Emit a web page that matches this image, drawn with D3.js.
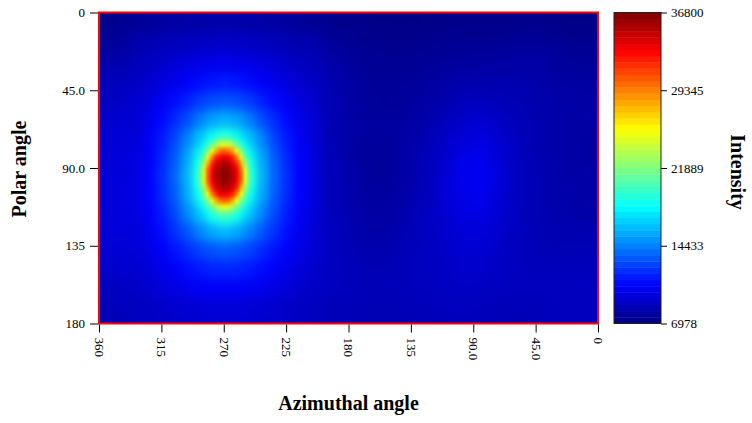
<!DOCTYPE html>
<html>
<head>
<meta charset="utf-8">
<script src="https://cdn.jsdelivr.net/npm/d3@7"></script>
<style>
  html, body { margin: 0; padding: 0; background: #ffffff; }
  svg { display: block; font-family: "Liberation Serif", "Times New Roman", serif; }
</style>
</head>
<body>
<svg id="chart" width="752" height="423"></svg>
<script>
// ---------------------------------------------------------------
// Scattered intensity over (azimuthal, polar) angles.
// Map values are stored in hundreds of counts, one string per row
// (polar angle increasing downwards, azimuth decreasing rightwards).
// ---------------------------------------------------------------

// Wide field: 15° x 15° bins
const wideAz = [352.5, 337.5, 322.5, 307.5, 292.5, 277.5, 262.5, 247.5, 232.5, 217.5, 202.5, 187.5,
                172.5, 157.5, 142.5, 127.5, 112.5, 97.5, 82.5, 67.5, 52.5, 37.5, 22.5, 7.5];
const widePolar = [7.5, 22.5, 37.5, 52.5, 67.5, 82.5, 97.5, 112.5, 127.5, 142.5, 157.5, 172.5];
const wideBin = [15, 15];
const wideRows = [
  "74 76 78 80 81 82 82 81 80 78 76 74 73 72 72 72 73 73 73 73 74 73 72 72",
  "79 81 84 87 89 90 90 89 87 85 83 79 76 75 74 75 76 77 77 78 80 79 77 76",
  "87 88 90 93 96 98 98 96 93 90 88 83 78 77 77 78 80 82 83 83 83 81 79 79",
  "90 92 94 97 101 104 104 101 97 92 88 84 79 77 78 80 83 88 89 86 85 83 82 81",
  "94 95 97 100 107 113 113 107 100 94 89 84 80 79 80 83 88 95 96 90 86 83 81 80",
  "95 97 99 103 112 125 125 112 103 95 90 85 79 77 80 85 91 100 103 93 87 83 81 79",
  "96 98 100 104 115 130 130 115 104 96 91 86 80 77 80 85 93 103 105 94 87 84 82 81",
  "96 98 100 103 112 123 123 112 103 96 91 86 81 79 82 87 93 100 101 92 87 84 82 81",
  "95 97 98 101 107 112 112 107 101 95 91 88 83 81 84 88 91 96 97 91 87 85 84 84",
  "93 95 97 99 103 106 106 103 99 95 91 88 85 84 86 88 90 93 93 89 87 86 86 86",
  "89 91 93 95 97 99 99 97 95 92 90 88 87 86 87 88 89 91 90 88 88 88 88 88",
  "86 88 90 92 93 94 94 93 92 90 88 86 86 85 86 86 87 88 87 86 86 87 88 88"
];

// Halo around the hot spot: 9° x 10.8° bins
const haloAz = [332.5, 323.5, 314.5, 305.5, 296.5, 287.5, 278.5, 269.5, 260.5, 251.5, 242.5, 233.5, 224.5, 215.5, 206.5];
const haloPolar = [18.9, 29.7, 40.5, 51.3, 62.1, 72.9, 83.7, 94.5, 105.3, 116.1, 126.9, 137.7, 148.5, 159.3, 170.1];
const haloBin = [9, 10.8];
const haloRows = [
  "84 86 86 88 89 90 91 92 91 90 89 87 86 84 84",
  "87 89 92 95 98 100 101 102 101 100 98 95 92 89 87",
  "90 93 97 101 105 110 113 115 113 110 105 101 97 93 90",
  "93 97 104 110 116 124 129 131 129 124 116 109 104 97 93",
  "95 101 109 119 130 144 155 160 155 144 130 119 109 101 95",
  "96 104 114 127 145 165 189 206 189 165 145 127 114 104 96",
  "98 106 118 133 156 189 292 336 292 189 156 133 118 106 98",
  "98 107 120 136 161 206 336 368 336 206 161 136 120 107 98",
  "99 107 119 134 157 190 292 336 292 189 157 134 119 107 98",
  "98 105 115 128 147 166 190 207 190 166 146 128 115 105 97",
  "97 103 111 121 132 146 157 162 157 146 132 121 111 103 96",
  "95 99 106 112 119 126 131 133 131 126 119 112 106 99 95",
  "93 96 101 105 110 114 117 118 117 114 110 105 101 96 93",
  "91 93 96 99 102 104 105 105 105 104 102 99 96 93 91",
  "88 90 91 93 94 95 96 96 96 95 94 93 91 90 88"
];

// Hot spot core: 3° x 3.6° bins
const coreAz = [296.5, 293.5, 290.5, 287.5, 284.5, 281.5, 278.5, 275.5, 272.5, 269.5,
                266.5, 263.5, 260.5, 257.5, 254.5, 251.5, 248.5, 245.5, 242.5];
const corePolar = [62.1, 65.7, 69.3, 72.9, 76.5, 80.1, 83.7, 87.3, 90.9, 94.5,
                   98.1, 101.7, 105.3, 108.9, 112.5, 116.1, 119.7, 123.3, 126.9];
const coreBin = [3, 3.6];
const coreRows = [
  "127 131 135 141 145 150 153 156 158 158 156 157 152 151 146 141 135 132 126",
  "132 136 142 149 153 158 163 164 168 167 168 164 162 159 153 148 143 136 131",
  "136 144 149 158 162 169 173 179 181 184 182 177 175 167 164 156 151 142 138",
  "142 151 157 166 171 181 188 199 203 207 204 197 190 179 173 164 159 149 144",
  "148 155 165 171 184 195 212 227 245 248 244 229 210 197 182 173 163 157 146",
  "154 159 170 179 197 216 250 278 300 303 299 280 248 218 195 181 168 161 152",
  "154 165 174 190 210 250 291 321 331 337 332 319 293 248 212 188 176 163 156",
  "159 166 180 197 229 278 321 340 349 355 351 338 319 280 227 199 178 168 157",
  "158 170 182 205 243 300 331 351 359 362 358 349 333 298 245 203 184 168 160",
  "161 169 185 205 250 303 337 355 362 368 363 353 335 305 248 207 183 171 159",
  "161 171 183 206 245 300 333 349 359 362 357 351 331 300 243 206 185 169 161",
  "160 168 181 199 229 280 319 340 351 353 350 340 321 278 229 200 180 169 159",
  "157 167 177 192 212 250 293 319 333 335 331 321 291 251 213 191 178 165 158",
  "156 162 172 182 199 219 250 280 298 305 300 278 250 219 198 183 171 163 155",
  "152 162 168 178 188 201 215 232 247 252 248 231 216 200 189 177 169 161 153",
  "150 155 165 170 179 185 196 203 210 211 209 205 194 187 177 172 164 157 149",
  "146 153 158 167 171 178 182 188 190 193 191 186 184 176 173 166 158 153 145",
  "143 147 154 158 166 169 174 175 179 178 179 175 173 170 164 160 152 149 142",
  "138 144 147 154 156 164 164 169 168 171 169 168 165 162 158 152 149 142 139"
];

// Axes and colour bar
const xTickValues = [360, 315, 270, 225, 180, 135, 90, 45, 0];
const xTickLabels = ["360", "315", "270", "225", "180", "135", "90.0", "45.0", "0"];
const yTickValues = [0, 45, 90, 135, 180];
const yTickLabels = ["0", "45.0", "90.0", "135", "180"];
const colorbarTicks = [6978, 14433, 21889, 29345, 36800];
const colorbarLevels = 50;

// ---------------------------------------------------------------
const svg = d3.select("#chart");
const plot = { left: 99, right: 598, top: 12.5, bottom: 323.5 };
const bar = { left: 614, right: 661 };

const x = d3.scaleLinear().domain([360, 0]).range([plot.left, plot.right]);
const y = d3.scaleLinear().domain([0, 180]).range([plot.top, plot.bottom]);

// jet colour map over the intensity range
const vMin = colorbarTicks[0], vMax = colorbarTicks[colorbarTicks.length - 1];
const jetStops = [0, 0.125, 0.375, 0.625, 0.875, 1];
const jetColors = ["#00007f", "#0000ff", "#00ffff", "#ffff00", "#ff0000", "#7f0000"];
const color = d3.scaleLinear()
  .domain(jetStops.map(t => vMin + t * (vMax - vMin)))
  .range(jetColors)
  .clamp(true);

const parseRows = rows => rows.map(r => r.trim().split(/\s+/).map(v => +v * 100));

function cellsOf(azCenters, polarCenters, bin, rows) {
  const vals = parseRows(rows);
  const out = [];
  vals.forEach((row, j) => row.forEach((v, i) => {
    out.push({
      azHi: azCenters[i] + bin[0] / 2,
      azLo: azCenters[i] - bin[0] / 2,
      pLo: polarCenters[j] - bin[1] / 2,
      pHi: polarCenters[j] + bin[1] / 2,
      v
    });
  }));
  return out;
}

const defs = svg.append("defs");
defs.append("clipPath").attr("id", "plotClip")
  .append("rect")
  .attr("x", plot.left).attr("y", plot.top)
  .attr("width", plot.right - plot.left).attr("height", plot.bottom - plot.top);

function blurFilter(id, sd) {
  defs.append("filter").attr("id", id)
    .attr("x", "-15%").attr("y", "-15%").attr("width", "130%").attr("height", "130%")
    .attr("color-interpolation-filters", "sRGB")
    .append("feGaussianBlur").attr("stdDeviation", sd);
}
blurFilter("blurWide", "11 11");
blurFilter("blurHalo", "4.5 5.5");
blurFilter("blurCore", "1.6 1.9");

// the fine core grid fades out towards its rim so it blends into the halo grid
const midAz = coreAz[(coreAz.length - 1) / 2], midPolar = corePolar[(corePolar.length - 1) / 2];
const fade = defs.append("radialGradient").attr("id", "coreFade");
fade.append("stop").attr("offset", 0.7).attr("stop-color", "#fff");
fade.append("stop").attr("offset", 1).attr("stop-color", "#000");
defs.append("mask").attr("id", "coreMask")
  .attr("maskUnits", "userSpaceOnUse")
  .attr("x", 0).attr("y", 0).attr("width", 752).attr("height", 423)
  .append("ellipse")
  .attr("cx", x(midAz)).attr("cy", y(midPolar))
  .attr("rx", Math.abs(x(coreAz[0]) - x(midAz)))
  .attr("ry", Math.abs(y(corePolar[0]) - y(midPolar)))
  .attr("fill", "url(#coreFade)");

const heat = svg.append("g").attr("clip-path", "url(#plotClip)");

function drawLayer(cells, filterId, extendEdges, maskId) {
  const pad = 40, ov = 0.6;
  const padL = d => (extendEdges && d.azHi >= 360 ? pad : 0);
  const padR = d => (extendEdges && d.azLo <= 0 ? pad : 0);
  const padT = d => (extendEdges && d.pLo <= 0 ? pad : 0);
  const padB = d => (extendEdges && d.pHi >= 180 ? pad : 0);
  const holder = heat.append("g");
  if (maskId) holder.attr("mask", `url(#${maskId})`);
  holder.append("g").attr("filter", `url(#${filterId})`)
    .selectAll("rect").data(cells).join("rect")
    .attr("x", d => x(d.azHi) - padL(d))
    .attr("y", d => y(d.pLo) - padT(d))
    .attr("width", d => x(d.azLo) - x(d.azHi) + ov + padL(d) + padR(d))
    .attr("height", d => y(d.pHi) - y(d.pLo) + ov + padT(d) + padB(d))
    .attr("fill", d => color(d.v));
}

drawLayer(cellsOf(wideAz, widePolar, wideBin, wideRows), "blurWide", true);
drawLayer(cellsOf(haloAz, haloPolar, haloBin, haloRows), "blurHalo", false);
drawLayer(cellsOf(coreAz, corePolar, coreBin, coreRows), "blurCore", false, "coreMask");

// red plot frame
svg.append("rect")
  .attr("x", plot.left).attr("y", plot.top)
  .attr("width", plot.right - plot.left).attr("height", plot.bottom - plot.top)
  .attr("fill", "none").attr("stroke", "#ff0000").attr("stroke-width", 2);

// y axis
const yAxis = svg.append("g")
  .attr("transform", `translate(${plot.left - 1},0)`)
  .call(d3.axisLeft(y).tickValues(yTickValues).tickSize(8).tickPadding(5)
    .tickFormat((d, i) => yTickLabels[i]));
yAxis.select(".domain").remove();
yAxis.selectAll(".tick line").attr("stroke", "#000");
yAxis.selectAll("text").attr("font-size", 13).attr("fill", "#000")
  .attr("font-family", "Liberation Serif, Times New Roman, serif");

// x axis with rotated labels
const xAxis = svg.append("g")
  .attr("transform", `translate(0,${plot.bottom + 1})`)
  .call(d3.axisBottom(x).tickValues(xTickValues).tickSize(8)
    .tickFormat((d, i) => xTickLabels[i]));
xAxis.select(".domain").remove();
xAxis.selectAll(".tick line").attr("stroke", "#000");
xAxis.selectAll("text")
  .attr("font-size", 13).attr("fill", "#000")
  .attr("font-family", "Liberation Serif, Times New Roman, serif")
  .attr("transform", "rotate(90)")
  .attr("x", 13).attr("y", 0).attr("dy", "0.35em")
  .style("text-anchor", "start");

// axis titles
svg.append("text")
  .attr("transform", `translate(19,${(plot.top + plot.bottom) / 2 + 1}) rotate(-90)`)
  .attr("text-anchor", "middle").attr("dominant-baseline", "central")
  .attr("font-size", 20).attr("font-weight", "bold").attr("fill", "#000")
  .text("Polar angle");

svg.append("text")
  .attr("x", (plot.left + plot.right) / 2).attr("y", 410)
  .attr("text-anchor", "middle")
  .attr("font-size", 20).attr("font-weight", "bold").attr("fill", "#000")
  .text("Azimuthal angle");

// colour bar
const cb = d3.scaleLinear().domain([vMin, vMax]).range([plot.bottom, plot.top]);
const levels = d3.range(colorbarLevels).map(k => ({
  lo: vMin + (vMax - vMin) * k / colorbarLevels,
  hi: vMin + (vMax - vMin) * (k + 1) / colorbarLevels
}));
svg.append("g").selectAll("rect").data(levels).join("rect")
  .attr("x", bar.left).attr("width", bar.right - bar.left)
  .attr("y", d => cb(d.hi)).attr("height", d => cb(d.lo) - cb(d.hi) + 0.4)
  .attr("fill", d => color((d.lo + d.hi) / 2));
svg.append("rect")
  .attr("x", bar.left).attr("y", plot.top)
  .attr("width", bar.right - bar.left).attr("height", plot.bottom - plot.top)
  .attr("fill", "none").attr("stroke", "#222").attr("stroke-width", 1);

const cbAxis = svg.append("g")
  .attr("transform", `translate(${bar.right},0)`)
  .call(d3.axisRight(cb).tickValues(colorbarTicks).tickSize(6).tickPadding(4)
    .tickFormat(d3.format("d")));
cbAxis.select(".domain").remove();
cbAxis.selectAll(".tick line").attr("stroke", "#000");
cbAxis.selectAll("text").attr("font-size", 13).attr("fill", "#000")
  .attr("font-family", "Liberation Serif, Times New Roman, serif");

svg.append("text")
  .attr("transform", `translate(738,${(plot.top + plot.bottom) / 2 + 4}) rotate(90)`)
  .attr("text-anchor", "middle").attr("dominant-baseline", "central")
  .attr("font-size", 20).attr("font-weight", "bold").attr("fill", "#000")
  .text("Intensity");
</script>
</body>
</html>
